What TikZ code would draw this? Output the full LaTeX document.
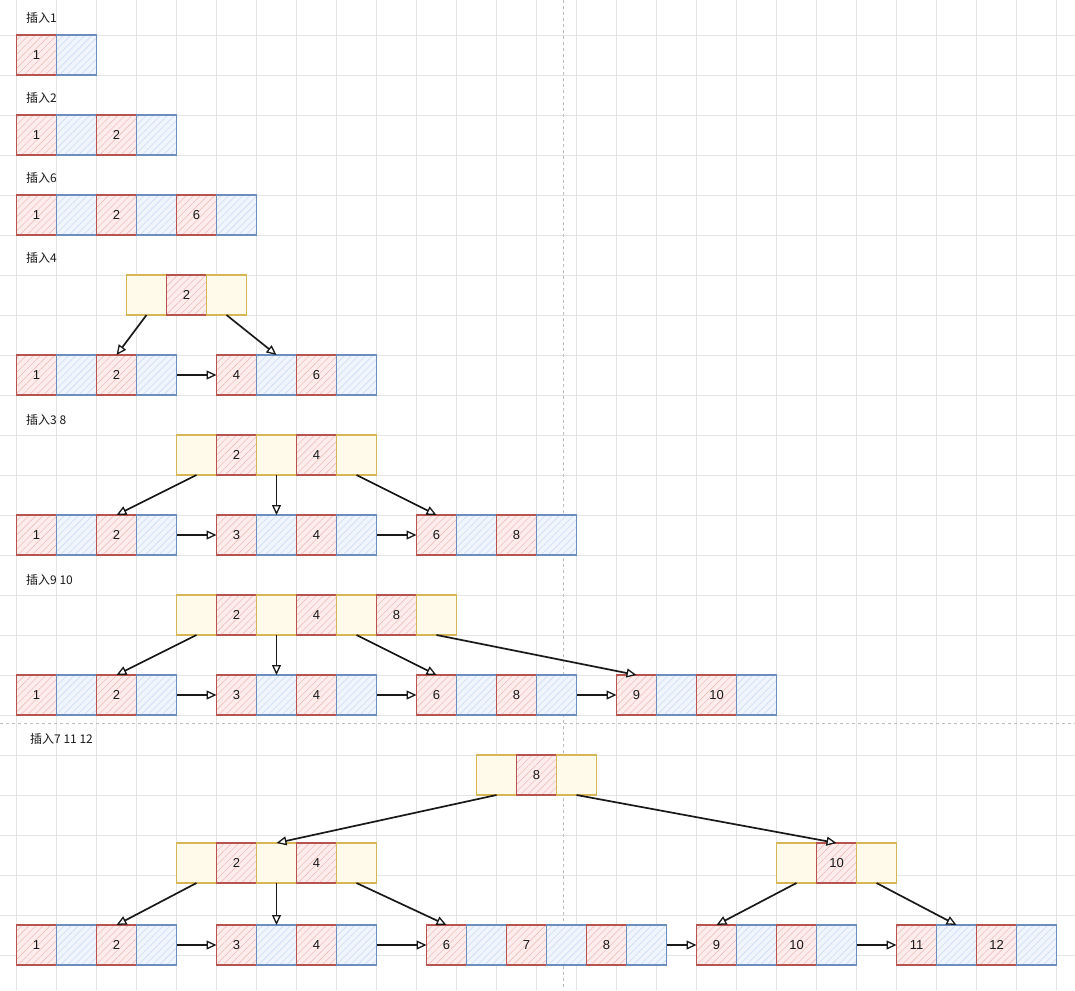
\documentclass[tikz,border=0pt]{standalone}
\usepackage{fontspec}
\setmainfont{Liberation Sans}
\newfontfamily\cjk{Noto Sans CJK SC}
\usetikzlibrary{arrows.meta,patterns.meta}
\definecolor{rfill}{HTML}{FCEDEC}
\definecolor{rdraw}{HTML}{B85450}
\definecolor{rhatch}{HTML}{F0BFBC}
\definecolor{bfill}{HTML}{F0F5FD}
\definecolor{bdraw}{HTML}{6C8EBF}
\definecolor{bhatch}{HTML}{CCDCF3}
\definecolor{yfill}{HTML}{FFFAEA}
\definecolor{ydraw}{HTML}{D6B656}
\definecolor{gridc}{HTML}{E4E4E4}
\definecolor{pagec}{HTML}{BDBDBD}
\tikzset{
  cellbase/.style={rectangle, minimum width=40pt, minimum height=40pt, inner sep=0pt,
    outer sep=0pt, line width=1.8pt, anchor=north west, font=\fontsize{13}{13}\selectfont, text=black!90},
  rc/.style={cellbase, draw=rdraw, preaction={fill=rfill},
    preaction={pattern={Lines[angle=45,distance=5pt,line width=0.6pt]}, pattern color=rhatch}},
  bc/.style={cellbase, draw=bdraw, preaction={fill=bfill},
    preaction={pattern={Lines[angle=45,distance=5pt,line width=0.6pt]}, pattern color=bhatch}},
  yc/.style={cellbase, draw=ydraw, fill=yfill},
  lbl/.style={anchor=west, inner sep=0pt, font=\cjk\fontsize{12}{12}\selectfont, text=black!90},
  arr/.style={line width=1.7pt, black!90, -{Triangle[length=10pt,width=9pt,fill=white,line width=1.3pt]}},
}
\newcommand\nd[5]{\node[#2] (#1) at (#3,#4) {#5};}
\begin{document}
\begin{tikzpicture}[x=1pt,y=-1pt]
\useasboundingbox (0,0) rectangle (1075,990);
\fill[white] (0,0) rectangle (1075,990);
\foreach \gx in {16.5,56.5,...,1060} \draw[gridc,line width=0.8pt] (\gx,0) -- (\gx,990);
\foreach \gy in {35,75,...,990} \draw[gridc,line width=0.8pt] (0,\gy) -- (1075,\gy);
\draw[pagec,line width=0.8pt,dash pattern=on 3pt off 3pt] (563,0) -- (563,990);
\draw[pagec,line width=0.8pt,dash pattern=on 3pt off 3pt] (0,723) -- (1075,723);

% labels
\node[lbl] (la) at (26,18) {插入1};
\node[lbl] (lb) at (26,98) {插入2};
\node[lbl] (lc) at (26,178) {插入6};
\node[lbl] (ld) at (26,258) {插入4};
\node[lbl] (le) at (26,420) {插入3 8};
\node[lbl] (lf) at (26,580) {插入9 10};
\node[lbl] (lg) at (30,739) {插入7 11 12};

% A
\nd{a1}{rc}{16.5}{35}{1}\nd{a2}{bc}{56.5}{35}{}
% B
\nd{b1}{rc}{16.5}{115}{1}\nd{b2}{bc}{56.5}{115}{}\nd{b3}{rc}{96.5}{115}{2}\nd{b4}{bc}{136.5}{115}{}
% C
\nd{c1}{rc}{16.5}{195}{1}\nd{c2}{bc}{56.5}{195}{}\nd{c3}{rc}{96.5}{195}{2}\nd{c4}{bc}{136.5}{195}{}
\nd{c5}{rc}{176.5}{195}{6}\nd{c6}{bc}{216.5}{195}{}
% D
\nd{dt1}{yc}{126.5}{275}{}\nd{dt2}{rc}{166.5}{275}{2}\nd{dt3}{yc}{206.5}{275}{}
\nd{d1}{rc}{16.5}{355}{1}\nd{d2}{bc}{56.5}{355}{}\nd{d3}{rc}{96.5}{355}{2}\nd{d4}{bc}{136.5}{355}{}
\nd{d5}{rc}{216.5}{355}{4}\nd{d6}{bc}{256.5}{355}{}\nd{d7}{rc}{296.5}{355}{6}\nd{d8}{bc}{336.5}{355}{}
\draw[arr] (dt1.south) -- (d3.north);
\draw[arr] (dt3.south) -- (d6.north);
\draw[arr] (d4.east) -- (d5.west);
% E
\nd{et1}{yc}{176.5}{435}{}\nd{et2}{rc}{216.5}{435}{2}\nd{et3}{yc}{256.5}{435}{}\nd{et4}{rc}{296.5}{435}{4}\nd{et5}{yc}{336.5}{435}{}
\nd{e1}{rc}{16.5}{515}{1}\nd{e2}{bc}{56.5}{515}{}\nd{e3}{rc}{96.5}{515}{2}\nd{e4}{bc}{136.5}{515}{}
\nd{e5}{rc}{216.5}{515}{3}\nd{e6}{bc}{256.5}{515}{}\nd{e7}{rc}{296.5}{515}{4}\nd{e8}{bc}{336.5}{515}{}
\nd{e9}{rc}{416.5}{515}{6}\nd{e10}{bc}{456.5}{515}{}\nd{e11}{rc}{496.5}{515}{8}\nd{e12}{bc}{536.5}{515}{}
\draw[arr] (et1.south) -- (e3.north);
\draw[arr] (et3.south) -- (e6.north);
\draw[arr] (et5.south) -- (e9.north);
\draw[arr] (e4.east) -- (e5.west);
\draw[arr] (e8.east) -- (e9.west);
% F
\nd{ft1}{yc}{176.5}{595}{}\nd{ft2}{rc}{216.5}{595}{2}\nd{ft3}{yc}{256.5}{595}{}\nd{ft4}{rc}{296.5}{595}{4}\nd{ft5}{yc}{336.5}{595}{}
\nd{ft6}{rc}{376.5}{595}{8}\nd{ft7}{yc}{416.5}{595}{}
\nd{f1}{rc}{16.5}{675}{1}\nd{f2}{bc}{56.5}{675}{}\nd{f3}{rc}{96.5}{675}{2}\nd{f4}{bc}{136.5}{675}{}
\nd{f5}{rc}{216.5}{675}{3}\nd{f6}{bc}{256.5}{675}{}\nd{f7}{rc}{296.5}{675}{4}\nd{f8}{bc}{336.5}{675}{}
\nd{f9}{rc}{416.5}{675}{6}\nd{f10}{bc}{456.5}{675}{}\nd{f11}{rc}{496.5}{675}{8}\nd{f12}{bc}{536.5}{675}{}
\nd{f13}{rc}{616.5}{675}{9}\nd{f14}{bc}{656.5}{675}{}\nd{f15}{rc}{696.5}{675}{10}\nd{f16}{bc}{736.5}{675}{}
\draw[arr] (ft1.south) -- (f3.north);
\draw[arr] (ft3.south) -- (f6.north);
\draw[arr] (ft5.south) -- (f9.north);
\draw[arr] (ft7.south) -- (f13.north);
\draw[arr] (f4.east) -- (f5.west);
\draw[arr] (f8.east) -- (f9.west);
\draw[arr] (f12.east) -- (f13.west);
% G
\nd{g1}{yc}{476.5}{755}{}\nd{g2}{rc}{516.5}{755}{8}\nd{g3}{yc}{556.5}{755}{}
\nd{m1}{yc}{176.5}{843}{}\nd{m2}{rc}{216.5}{843}{2}\nd{m3}{yc}{256.5}{843}{}\nd{m4}{rc}{296.5}{843}{4}\nd{m5}{yc}{336.5}{843}{}
\nd{n1}{yc}{776.5}{843}{}\nd{n2}{rc}{816.5}{843}{10}\nd{n3}{yc}{856.5}{843}{}
\nd{h1}{rc}{16.5}{925}{1}\nd{h2}{bc}{56.5}{925}{}\nd{h3}{rc}{96.5}{925}{2}\nd{h4}{bc}{136.5}{925}{}
\nd{h5}{rc}{216.5}{925}{3}\nd{h6}{bc}{256.5}{925}{}\nd{h7}{rc}{296.5}{925}{4}\nd{h8}{bc}{336.5}{925}{}
\nd{h9}{rc}{426.5}{925}{6}\nd{h10}{bc}{466.5}{925}{}\nd{h11}{rc}{506.5}{925}{7}\nd{h12}{bc}{546.5}{925}{}
\nd{h13}{rc}{586.5}{925}{8}\nd{h14}{bc}{626.5}{925}{}
\nd{h15}{rc}{696.5}{925}{9}\nd{h16}{bc}{736.5}{925}{}\nd{h17}{rc}{776.5}{925}{10}\nd{h18}{bc}{816.5}{925}{}
\nd{h19}{rc}{896.5}{925}{11}\nd{h20}{bc}{936.5}{925}{}\nd{h21}{rc}{976.5}{925}{12}\nd{h22}{bc}{1016.5}{925}{}
\draw[arr] (g1.south) -- (m3.north);
\draw[arr] (g3.south) -- (n2.north);
\draw[arr] (m1.south) -- (h3.north);
\draw[arr] (m3.south) -- (h6.north);
\draw[arr] (m5.south) -- (h9.north);
\draw[arr] (n1.south) -- (h15.north);
\draw[arr] (n3.south) -- (h20.north);
\draw[arr] (h4.east) -- (h5.west);
\draw[arr] (h8.east) -- (h9.west);
\draw[arr] (h14.east) -- (h15.west);
\draw[arr] (h18.east) -- (h19.west);
\end{tikzpicture}
\end{document}
